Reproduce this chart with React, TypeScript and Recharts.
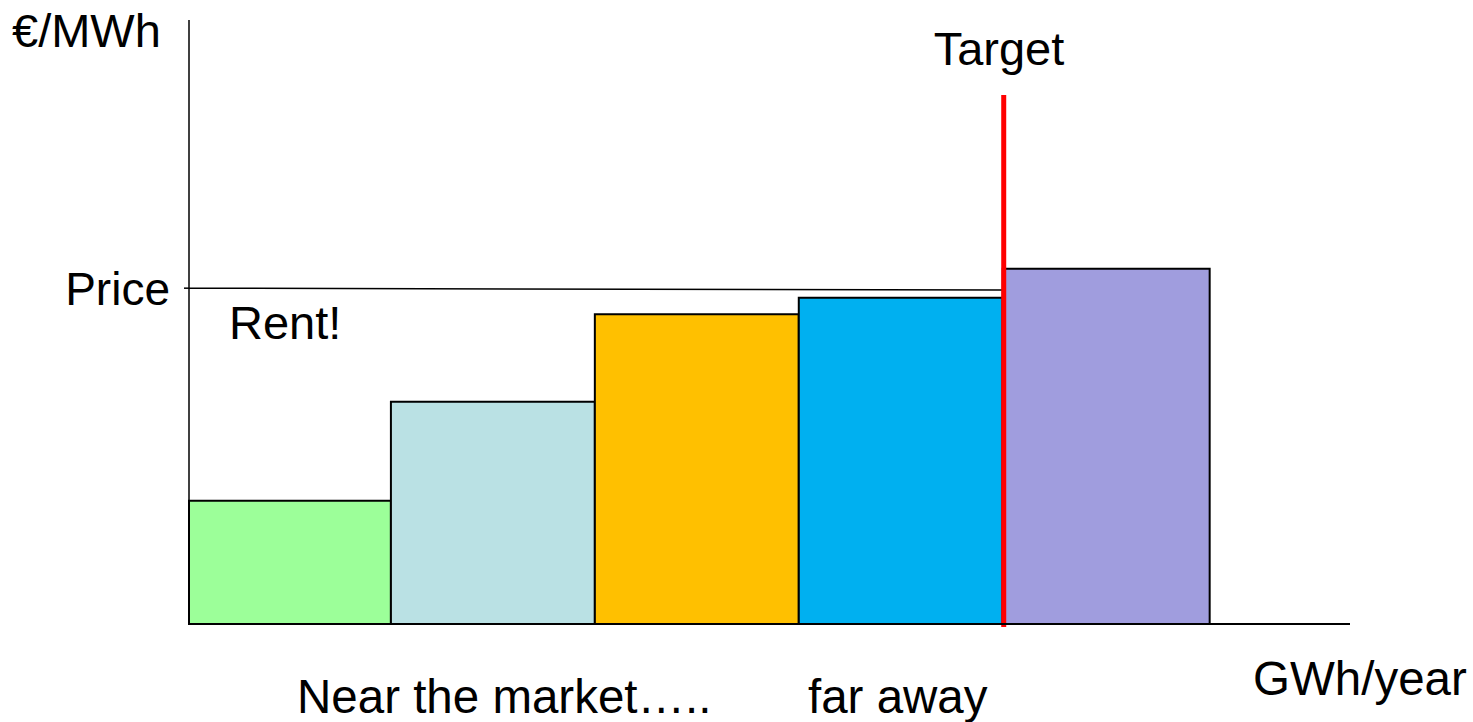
import React from 'react';
import {
  ComposedChart,
  XAxis,
  YAxis,
  ReferenceArea,
  ReferenceLine,
} from 'recharts';

// Supply blocks ordered from cheapest (near the market) to most expensive (far away)
const blockWidths = [20.0, 20.2, 20.2, 20.2, 20.5]; // GWh/year
const blockCosts = [20.4, 36.8, 51.3, 54.0, 58.8]; // €/MWh
const blockColors = ['#9CFF99', '#BAE1E4', '#FFC000', '#00B0F0', '#A09DDE'];

const marketPrice = 55.6;
const targetVolume = 80.7;
const targetLineTop = 87.6;
const xMax = 115;
const yMax = 100;

const FONT = '"Liberation Sans", Arial, sans-serif';

// cumulative start/end of each block along the volume axis
const blocks = blockWidths.map((w, i) => {
  const start = blockWidths.slice(0, i).reduce((a, b) => a + b, 0);
  return { start, end: start + w, cost: blockCosts[i], color: blockColors[i] };
});

const App: React.FC = () => {
  return (
    <div style={{ position: 'absolute', left: 0, top: 0, background: '#fff' }}>
      <ComposedChart
        width={1473}
        height={722}
        margin={{ top: 20, right: 123, bottom: 68, left: 129 }}
      >
        <XAxis
          type="number"
          dataKey="x"
          domain={[0, xMax]}
          tick={false}
          tickLine={false}
          axisLine={{ stroke: '#000', strokeWidth: 2 }}
          height={30}
          allowDataOverflow
        />
        <YAxis
          type="number"
          domain={[0, yMax]}
          ticks={[marketPrice]}
          tickFormatter={() => 'Price'}
          tick={{ fontSize: 46, fill: '#000', fontFamily: FONT }}
          tickSize={5}
          tickMargin={14}
          tickLine={{ stroke: '#000', strokeWidth: 1.5 }}
          axisLine={{ stroke: '#000', strokeWidth: 1.5 }}
          width={60}
          allowDataOverflow
        />
        <ReferenceLine
          segment={[
            { x: 0, y: marketPrice },
            { x: targetVolume, y: marketPrice - 0.3 },
          ]}
          stroke="#000"
          strokeWidth={1.5}
        />
        {blocks.map((b, i) => (
          <ReferenceArea
            key={`block-${i}`}
            x1={b.start}
            x2={b.end}
            y1={0}
            y2={b.cost}
            fill={b.color}
            fillOpacity={1}
            stroke="#000"
            strokeWidth={2}
          />
        ))}
        <ReferenceLine
          segment={[
            { x: targetVolume, y: -0.5 },
            { x: targetVolume, y: targetLineTop },
          ]}
          ifOverflow="visible"
          stroke="#FF0000"
          strokeWidth={5}
        />
        <text x={12} y={47} fontSize={47} fontFamily={FONT} fill="#000">
          €/MWh
        </text>
        <text x={999} y={65} fontSize={47} fontFamily={FONT} fill="#000" textAnchor="middle">
          Target
        </text>
        <text x={229} y={339} fontSize={47} fontFamily={FONT} fill="#000">
          Rent!
        </text>
        <text x={297} y={713} fontSize={47.5} fontFamily={FONT} fill="#000">
          Near the market…..
        </text>
        <text x={808} y={713} fontSize={47.5} fontFamily={FONT} fill="#000">
          far away
        </text>
        <text x={1253} y={695} fontSize={47.5} fontFamily={FONT} fill="#000">
          GWh/year
        </text>
      </ComposedChart>
    </div>
  );
};

export default App;
